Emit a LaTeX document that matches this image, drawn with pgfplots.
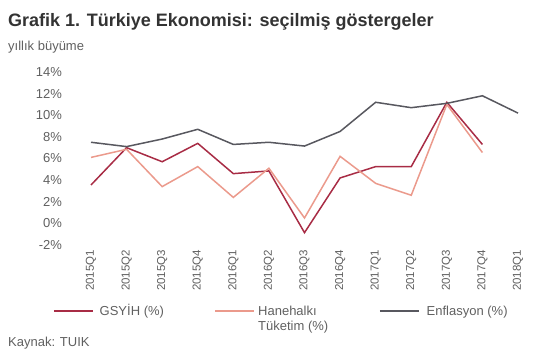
\documentclass[border=0pt]{standalone}
\usepackage{pgfplots}
\pgfplotsset{compat=1.18}
\usepackage{fontspec}
\setmainfont{Liberation Sans}
\definecolor{gdp}{HTML}{A82C45}
\definecolor{cons}{HTML}{EB9A8C}
\definecolor{infl}{HTML}{58585F}
\definecolor{txt}{HTML}{606060}
\begin{document}
\begin{tikzpicture}[x=1pt,y=1pt]
\useasboundingbox (0,0) rectangle (555,355);
\node[anchor=base west, inner sep=0pt, font=\fontsize{18}{20}\selectfont\bfseries, text=black!80] at (8,328) {Grafik 1. Türkiye Ekonomisi: seçilmiş göstergeler};
\node[anchor=west, inner sep=0pt, font=\fontsize{13}{15}\selectfont, text=txt] at (8,308) {yıllık büyüme};
\node[anchor=west, inner sep=0pt, font=\fontsize{13}{15}\selectfont, text=txt] at (8,12) {Kaynak: TUIK};
\begin{axis}[
  at={(91pt,110pt)}, anchor=south west,
  scale only axis, width=427pt, height=173pt,
  xmin=0, xmax=12, ymin=-2, ymax=14,
  ytick={-2,0,...,14},
  yticklabels={-2\%,0\%,2\%,4\%,6\%,8\%,10\%,12\%,14\%},
  xtick={0,...,12},
  xticklabels={2015Q1,2015Q2,2015Q3,2015Q4,2016Q1,2016Q2,2016Q3,2016Q4,2017Q1,2017Q2,2017Q3,2017Q4,2018Q1},
  axis line style={draw=none},
  major tick length=0pt,
  clip=false,
  /pgf/number format/assume math mode=true,
  yticklabel style={anchor=east, inner sep=0pt, outer xsep=29pt, font=\fontsize{13}{15}\selectfont, text=txt},
  xticklabel style={rotate=90, anchor=east, inner sep=0pt, outer xsep=5pt, font=\fontsize{11.5}{13}\selectfont, text=txt},
  legend columns=3,
  legend image code/.code={\draw[#1] (0pt,4.5pt) -- (39pt,4.5pt);},
  legend style={at={(-0.089,-0.341)}, anchor=north west, draw=none, fill=none, inner sep=0pt,
    font=\fontsize{13}{15}\selectfont, text=txt, column sep=0pt, row sep=0pt,
    cells={anchor=base west}, nodes={inner sep=0pt}},
]
\addplot[color=gdp, line width=1.5pt] coordinates {
(0,3.55) (1,7.0) (2,5.7) (3,7.4) (4,4.6) (5,4.85) (6,-0.86) (7,4.2) (8,5.25) (9,5.25) (10,11.2) (11,7.3)};
\addlegendentry{\makebox[121pt][l]{\hspace*{6pt}GSYİH (\%)}}
\addplot[color=cons, line width=1.5pt] coordinates {
(0,6.1) (1,6.85) (2,3.4) (3,5.25) (4,2.4) (5,5.1) (6,0.5) (7,6.2) (8,3.7) (9,2.6) (10,11.0) (11,6.55)};
\addlegendentry{\hspace*{3pt}\parbox[t]{121pt}{Hanehalkı\\Tüketim (\%)}}
\addplot[color=infl, line width=1.5pt] coordinates {
(0,7.5) (1,7.1) (2,7.8) (3,8.7) (4,7.3) (5,7.5) (6,7.15) (7,8.5) (8,11.2) (9,10.7) (10,11.1) (11,11.8) (12,10.2)};
\addlegendentry{\hspace*{7pt}Enflasyon (\%)}
\end{axis}
\end{tikzpicture}
\end{document}
